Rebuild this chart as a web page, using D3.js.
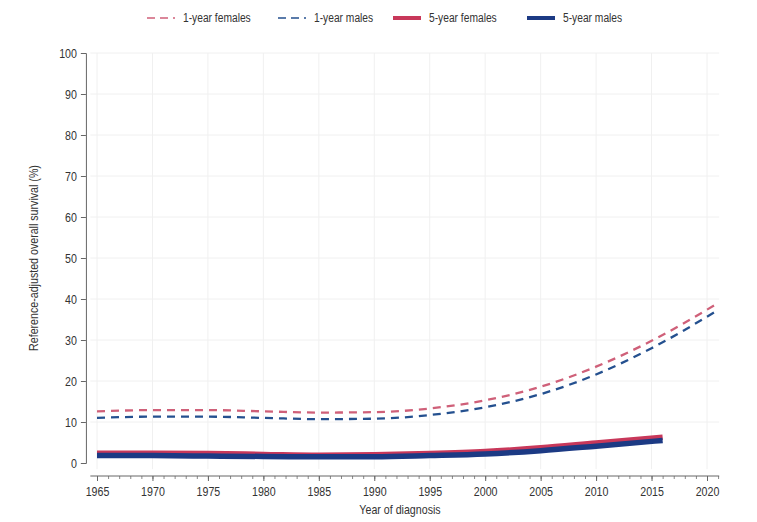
<!DOCTYPE html>
<html>
<head>
<meta charset="utf-8">
<script src="https://cdn.jsdelivr.net/npm/d3@7"></script>
<style>
  body { margin: 0; background: #fff; }
  svg { display: block; font-family: "Liberation Sans", Arial, sans-serif; }
</style>
</head>
<body>
<div id="chart"></div>
<script>
// values
const years1 = [1965, 1970, 1975, 1980, 1985, 1990, 1995, 2000, 2005, 2010, 2015, 2021];
const oneYearFemales = [12.6, 12.9, 12.9, 12.6, 12.3, 12.4, 13.3, 15.3, 18.6, 23.5, 29.8, 39.0];
const oneYearMales = [11.0, 11.3, 11.3, 11.0, 10.7, 10.8, 11.7, 13.6, 16.8, 21.6, 28.0, 37.3];

const years5 = [1965, 1970, 1975, 1980, 1985, 1990, 1995, 2000, 2005, 2010, 2016];
const fiveYearFemales = [2.4, 2.4, 2.3, 2.1, 1.9, 2.0, 2.3, 2.8, 3.7, 4.9, 6.3];
const fiveYearMales = [1.8, 1.8, 1.7, 1.6, 1.5, 1.5, 1.8, 2.2, 3.0, 4.1, 5.5];

const yTicks = [0, 10, 20, 30, 40, 50, 60, 70, 80, 90, 100];
const xTicks = [1965, 1970, 1975, 1980, 1985, 1990, 1995, 2000, 2005, 2010, 2015, 2020];

const series = [
  { name: '1-year females', years: years1, values: oneYearFemales, color: '#cf6079', width: 2.3, dash: '8,6' },
  { name: '1-year males', years: years1, values: oneYearMales, color: '#24508f', width: 2.3, dash: '8,6' },
  { name: '5-year females', years: years5, values: fiveYearFemales, color: '#c8385a', width: 5.5, dash: null },
  { name: '5-year males', years: years5, values: fiveYearMales, color: '#1c3a84', width: 5.5, dash: null }
];

const width = 757, height = 522;
const svg = d3.select('#chart').append('svg')
  .attr('width', width)
  .attr('height', height);

const x = d3.scaleLinear().domain([1965, 2020]).range([97, 707]);
const y = d3.scaleLinear().domain([0, 100]).range([463, 53]);

const plotLeft = x(1964.4), plotRight = x(2021.1);

// the reference uses a narrow face; squeeze text horizontally around its anchor
function narrow(sel, k = 0.82) {
  sel.each(function () {
    const t = d3.select(this);
    const tx = +t.attr('x') || 0, ty = +t.attr('y') || 0;
    t.attr('transform', `translate(${tx},${ty}) scale(${k},1) translate(${-tx},${-ty})`);
  });
}

// faint grid
svg.append('g').selectAll('line')
  .data(yTicks.slice(1))
  .enter().append('line')
  .attr('x1', plotLeft).attr('x2', plotRight)
  .attr('y1', d => y(d)).attr('y2', d => y(d))
  .attr('stroke', '#f0f0f0').attr('stroke-width', 1);

svg.append('g').selectAll('line')
  .data(xTicks)
  .enter().append('line')
  .attr('x1', d => x(d)).attr('x2', d => x(d))
  .attr('y1', y(100)).attr('y2', y(-1.5))
  .attr('stroke', '#f0f0f0').attr('stroke-width', 1);

// y axis
const yAxis = svg.append('g')
  .attr('transform', `translate(${x(1964.0)},0)`)
  .call(d3.axisLeft(y).tickValues(yTicks).tickSize(5).tickPadding(4));
yAxis.select('.domain').attr('stroke', '#666');
yAxis.selectAll('.tick line').attr('stroke', '#666');
yAxis.selectAll('.tick text').attr('fill', '#333').style('font-size', '13px').call(narrow);

// x axis: major every 5 years, minor every year
const xAxisY = 476;
const minor = d3.range(1965, 2022);
svg.append('g')
  .attr('transform', `translate(0,${xAxisY})`)
  .call(d3.axisBottom(x).tickValues(minor).tickSize(3).tickFormat(''))
  .call(g => g.select('.domain').remove())
  .selectAll('.tick line').attr('stroke', '#888');

const xAxis = svg.append('g')
  .attr('transform', `translate(0,${xAxisY})`)
  .call(d3.axisBottom(x).tickValues(xTicks).tickSize(5).tickPadding(6).tickFormat(d3.format('d')).tickSizeOuter(0));
xAxis.select('.domain').attr('d', `M${plotLeft},0H${plotRight}`).attr('stroke', '#666');
xAxis.selectAll('.tick line').attr('stroke', '#666');
xAxis.selectAll('.tick text').attr('fill', '#333').style('font-size', '13px').call(narrow);

// axis titles
svg.append('text')
  .attr('x', 400).attr('y', 514)
  .attr('text-anchor', 'middle')
  .attr('fill', '#333')
  .style('font-size', '13px')
  .text('Year of diagnosis')
  .call(narrow);

svg.append('text')
  .attr('transform', `translate(38,258) rotate(-90) scale(0.82,1)`)
  .attr('text-anchor', 'middle')
  .attr('fill', '#333')
  .style('font-size', '13px')
  .text('Reference-adjusted overall survival (%)');

// lines
const line = d3.line()
  .x(d => x(d[0]))
  .y(d => y(d[1]))
  .curve(d3.curveMonotoneX);

series.forEach(s => {
  svg.append('path')
    .datum(d3.zip(s.years, s.values))
    .attr('fill', 'none')
    .attr('stroke', s.color)
    .attr('stroke-width', s.width)
    .attr('stroke-dasharray', s.dash)
    .attr('d', line);
});

// legend
const legendX = [147, 278, 393, 527];
const legend = svg.append('g');
series.forEach((s, i) => {
  const g = legend.append('g').attr('transform', `translate(${legendX[i]},18)`);
  g.append('line')
    .attr('x1', 0).attr('x2', 28)
    .attr('stroke', s.color)
    .attr('stroke-width', s.dash ? 1.5 : 4)
    .attr('stroke-dasharray', s.dash ? '8,5' : null);
  g.append('text')
    .attr('x', 36).attr('y', 4)
    .attr('fill', '#333')
    .style('font-size', '12.5px')
    .text(s.name)
    .call(narrow);
});
</script>
</body>
</html>
